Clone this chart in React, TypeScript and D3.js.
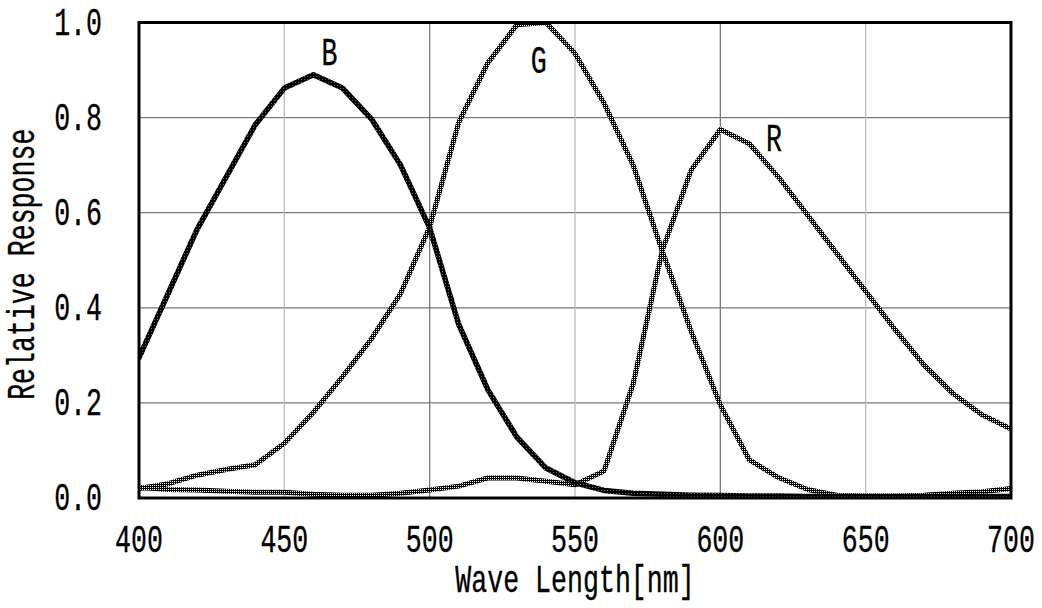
import * as d3 from 'd3';

// wavelength samples (nm) and relative response of each channel
const wavelengths = [400, 410, 420, 430, 440, 450, 460, 470, 480, 490, 500, 510, 520, 530, 540, 550, 560, 570, 580, 590, 600, 610, 620, 630, 640, 650, 660, 670, 680, 690, 700];
const blue = [0.295, 0.43, 0.565, 0.675, 0.785, 0.862, 0.89, 0.862, 0.797, 0.7, 0.568, 0.365, 0.228, 0.128, 0.063, 0.032, 0.016, 0.01, 0.008, 0.006, 0.005, 0.004, 0.004, 0.003, 0.003, 0.003, 0.003, 0.003, 0.003, 0.003, 0.003];
const green = [0.02, 0.03, 0.048, 0.06, 0.07, 0.115, 0.18, 0.255, 0.335, 0.43, 0.57, 0.79, 0.915, 0.995, 1.0, 0.935, 0.83, 0.7, 0.52, 0.35, 0.196, 0.08, 0.043, 0.018, 0.006, 0.004, 0.004, 0.006, 0.01, 0.013, 0.02];
const red = [0.022, 0.018, 0.017, 0.014, 0.012, 0.012, 0.008, 0.006, 0.006, 0.01, 0.017, 0.025, 0.042, 0.042, 0.035, 0.028, 0.057, 0.24, 0.52, 0.69, 0.775, 0.745, 0.675, 0.595, 0.515, 0.435, 0.355, 0.28, 0.22, 0.175, 0.145];

const xTicks = [400, 450, 500, 550, 600, 650, 700];
const yTicks = [0, 0.2, 0.4, 0.6, 0.8, 1.0];

// curve labels placed at (wavelength, response)
const curveLabels = [
  { name: 'B', wl: 465.5, v: 0.935 },
  { name: 'G', wl: 537.5, v: 0.92 },
  { name: 'R', wl: 618.5, v: 0.755 },
];

const W = 1042, H = 608;
const M = { left: 139, right: 31, top: 22.5, bottom: 110 };
const FONT = '"Liberation Mono", "DejaVu Sans Mono", monospace';
const SX = 0.70; // squeeze mono glyphs to ~16px advance

// narrow monospaced text, squeezed horizontally
function Label({ x, y, s, anchor = 'middle', rotate = 0 }: any) {
  return (
    <text
      transform={`translate(${x},${y}) rotate(${rotate}) scale(${SX},1)`}
      textAnchor={anchor}
      fontFamily={FONT}
      fontSize={38}
      fill="#000"
      stroke="#000"
      strokeWidth={0.35}
    >
      {s}
    </text>
  );
}

export default function App() {
  const x = d3.scaleLinear().domain([400, 700]).range([M.left, W - M.right]);
  const y = d3.scaleLinear().domain([0, 1]).range([H - M.bottom, M.top]);

  const line = d3.line<number>()
    .x((_, i) => x(wavelengths[i]))
    .y(d => y(d));

  const series = [
    { key: 'R', values: red, pat: 'url(#ditherLight)', w: 5 },
    { key: 'G', values: green, pat: 'url(#ditherLight)', w: 5 },
    { key: 'B', values: blue, pat: 'url(#ditherDark)', w: 5.5 },
  ];

  return (
    <div style={{ position: 'absolute', left: 0, top: 0 }}>
      <svg width={W} height={H} style={{ display: 'block', background: '#fff' }}>
        <defs>
          <pattern id="ditherLight" width={2} height={2} patternUnits="userSpaceOnUse">
            <rect width={2} height={2} fill="#000" />
            <rect x={0} y={1} width={1} height={1} fill="#eee" />
          </pattern>
          <pattern id="ditherDark" width={3} height={3} patternUnits="userSpaceOnUse">
            <rect width={3} height={3} fill="#000" />
            <rect x={1} y={1} width={1} height={1} fill="#666" />
          </pattern>
          <clipPath id="plotClip">
            <rect x={M.left} y={M.top} width={W - M.left - M.right} height={H - M.top - M.bottom} />
          </clipPath>
        </defs>

        {/* grid */}
        {yTicks.slice(1, -1).map(t => (
          <line key={'gy' + t} x1={M.left} x2={W - M.right} y1={y(t)} y2={y(t)} stroke="#777" strokeWidth={1.3} />
        ))}
        {xTicks.slice(1, -1).map((t, i) => (
          <line key={'gx' + t} x1={x(t)} x2={x(t)} y1={M.top} y2={H - M.bottom}
            stroke={i % 2 === 0 ? '#bbb' : '#777'} strokeWidth={1.3} />
        ))}

        {/* curves */}
        <g clipPath="url(#plotClip)">
          {series.map(s => (
            <path key={s.key} d={line(s.values) ?? ''} fill="none" stroke={s.pat}
              strokeWidth={s.w} strokeLinejoin="round" strokeLinecap="round" />
          ))}
        </g>

        {/* frame */}
        <rect x={M.left} y={M.top} width={W - M.left - M.right} height={H - M.top - M.bottom}
          fill="none" stroke="#000" strokeWidth={3} />

        {/* curve labels */}
        {curveLabels.map(l => (
          <Label key={l.name} x={x(l.wl)} y={y(l.v) + 12} s={l.name} />
        ))}

        {/* x tick labels */}
        {xTicks.map(t => (
          <Label key={'xt' + t} x={x(t)} y={552} s={String(t)} />
        ))}

        {/* y tick labels */}
        {yTicks.map(t => (
          <Label key={'yt' + t} x={102} y={y(t) + 12} s={d3.format('.1f')(t)} anchor="end" />
        ))}

        {/* axis titles */}
        <Label x={(M.left + W - M.right) / 2} y={592} s="Wave Length[nm]" />
        <Label x={34} y={(M.top + H - M.bottom) / 2 + 4} s="Relative Response" rotate={-90} />
      </svg>
    </div>
  );
}
